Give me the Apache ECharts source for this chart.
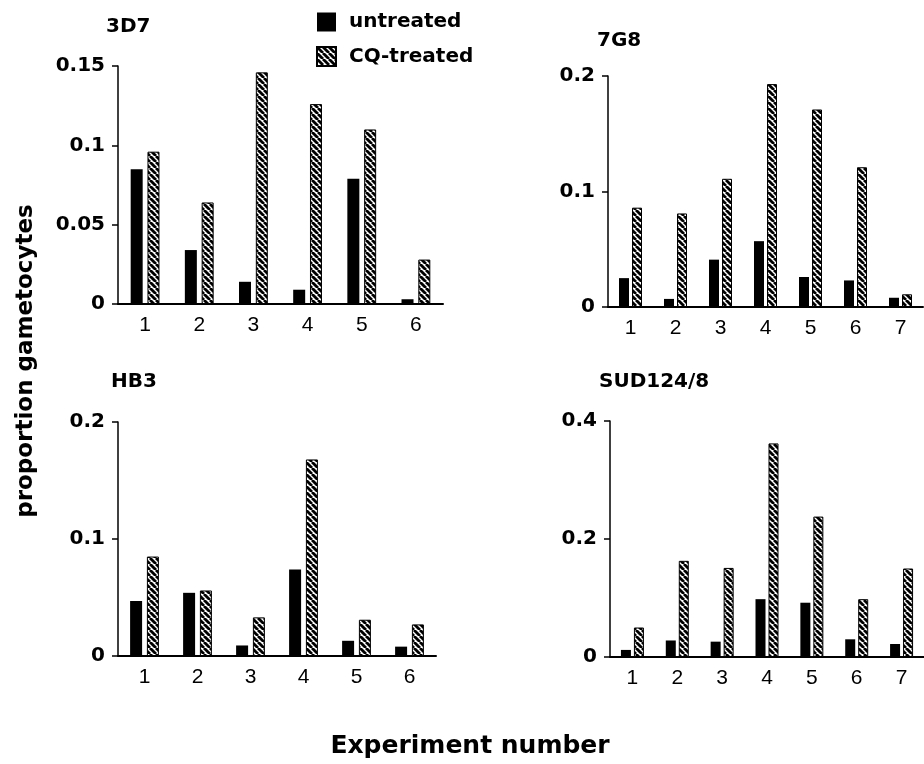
<!DOCTYPE html>
<html>
<head>
<meta charset="utf-8">
<style>
  html, body { margin: 0; padding: 0; background: #fff; }
  #chart { width: 924px; height: 764px; }
</style>
<script src="https://cdn.jsdelivr.net/npm/echarts@6/dist/echarts.min.js"></script>
</head>
<body>
<div id="chart"></div>
<script>
// ---- data ----
const panelTitles = ['3D7', '7G8', 'HB3', 'SUD124/8'];
const categories3D7 = ['1', '2', '3', '4', '5', '6'];
const categories7G8 = ['1', '2', '3', '4', '5', '6', '7'];
const categoriesHB3 = ['1', '2', '3', '4', '5', '6'];
const categoriesSUD = ['1', '2', '3', '4', '5', '6', '7'];

const untreated3D7 = [0.085, 0.034, 0.014, 0.009, 0.079, 0.003];
const cq3D7        = [0.096, 0.064, 0.146, 0.126, 0.110, 0.028];
const untreated7G8 = [0.025, 0.007, 0.041, 0.057, 0.026, 0.023, 0.008];
const cq7G8        = [0.086, 0.081, 0.111, 0.193, 0.171, 0.121, 0.011];
const untreatedHB3 = [0.047, 0.054, 0.009, 0.074, 0.013, 0.008];
const cqHB3        = [0.085, 0.056, 0.033, 0.168, 0.031, 0.027];
const untreatedSUD = [0.012, 0.028, 0.026, 0.098, 0.092, 0.030, 0.022];
const cqSUD        = [0.050, 0.163, 0.151, 0.362, 0.238, 0.098, 0.150];

const yMax      = [0.15, 0.2, 0.2, 0.4];
const yInterval = [0.05, 0.1, 0.1, 0.2];

const seriesNames = ['untreated', 'CQ-treated'];
const xLabelText = 'Experiment number';
const yLabelText = 'proportion gametocytes';

// ---- hatch pattern ----
function makeHatch() {
  const c = document.createElement('canvas');
  c.width = 6; c.height = 6;
  const ctx = c.getContext('2d');
  ctx.fillStyle = '#fff';
  ctx.fillRect(0, 0, 6, 6);
  ctx.strokeStyle = '#000';
  ctx.lineWidth = 2.8;
  for (const off of [-6, 0, 6]) {
    ctx.beginPath();
    ctx.moveTo(off, 0);
    ctx.lineTo(off + 6, 6);
    ctx.stroke();
  }
  return c;
}
const hatch = makeHatch();

const chart = echarts.init(document.getElementById('chart'), null, { renderer: 'canvas' });

const grids = [
  { left: 118, top: 66,  width: 325, height: 238 },
  { left: 608, top: 76,  width: 315, height: 231 },
  { left: 118, top: 422, width: 318, height: 234 },
  { left: 610, top: 421, width: 320, height: 236 }
];
const cats = [categories3D7, categories7G8, categoriesHB3, categoriesSUD];
const unt = [untreated3D7, untreated7G8, untreatedHB3, untreatedSUD];
const cq  = [cq3D7, cq7G8, cqHB3, cqSUD];
const barW = [12, 10, 12, 10];
const barG = ['40%', '30%', '40%', '30%'];

const titlePos = [
  { left: 106, top: 17 },
  { left: 597, top: 31 },
  { left: 111, top: 372 },
  { left: 599, top: 372 }
];

const xAxes = [], yAxes = [], series = [], titles = [];
for (let i = 0; i < 4; i++) {
  xAxes.push({
    type: 'category', gridIndex: i, data: cats[i],
    axisLine: { show: true, lineStyle: { color: '#000', width: 2 } },
    axisTick: { show: false },
    axisLabel: { color: '#000', fontFamily: 'Liberation Sans', fontSize: 21, margin: 11 },
    splitLine: { show: false }
  });
  yAxes.push({
    type: 'value', gridIndex: i, min: 0, max: yMax[i], interval: yInterval[i],
    axisLine: { show: true, lineStyle: { color: '#000', width: 1.5 } },
    axisTick: { show: true, length: 6, lineStyle: { color: '#000', width: 1.5 } },
    axisLabel: { color: '#000', fontFamily: 'DejaVu Sans', fontWeight: 'bold', fontSize: 20, margin: 13 },
    splitLine: { show: false }
  });
  series.push({
    name: seriesNames[0], type: 'bar', xAxisIndex: i, yAxisIndex: i,
    data: unt[i], barWidth: barW[i], barGap: barG[i],
    itemStyle: { color: '#000' }
  });
  series.push({
    name: seriesNames[1], type: 'bar', xAxisIndex: i, yAxisIndex: i,
    data: cq[i], barWidth: barW[i], barGap: barG[i],
    itemStyle: { color: { image: hatch, repeat: 'repeat' }, borderColor: '#000', borderWidth: 1 }
  });
  titles.push({
    text: panelTitles[i], left: titlePos[i].left, top: titlePos[i].top, padding: 0,
    textStyle: { color: '#000', fontFamily: 'DejaVu Sans', fontWeight: 'bold', fontSize: 20 }
  });
}

chart.setOption({
  animation: false,
  backgroundColor: '#fff',
  title: titles,
  legend: {
    orient: 'vertical', left: 316, top: 12, padding: 0,
    itemWidth: 19, itemHeight: 19, itemGap: 14, icon: 'rect',
    selectedMode: false,
    data: seriesNames,
    textStyle: { color: '#000', fontFamily: 'DejaVu Sans', fontWeight: 'bold', fontSize: 20, padding: [0, 0, 0, 8] }
  },
  grid: grids,
  xAxis: xAxes,
  yAxis: yAxes,
  series: series,
  graphic: [
    {
      type: 'text', x: 470, y: 746,
      style: { text: xLabelText, fill: '#000', font: 'bold 25px "DejaVu Sans"', textAlign: 'center', textVerticalAlign: 'middle' }
    },
    {
      type: 'text', x: 26, y: 361, rotation: Math.PI / 2,
      style: { text: yLabelText, fill: '#000', font: 'bold 23px "DejaVu Sans"', textAlign: 'center', textVerticalAlign: 'middle' }
    }
  ]
});
</script>
</body>
</html>
